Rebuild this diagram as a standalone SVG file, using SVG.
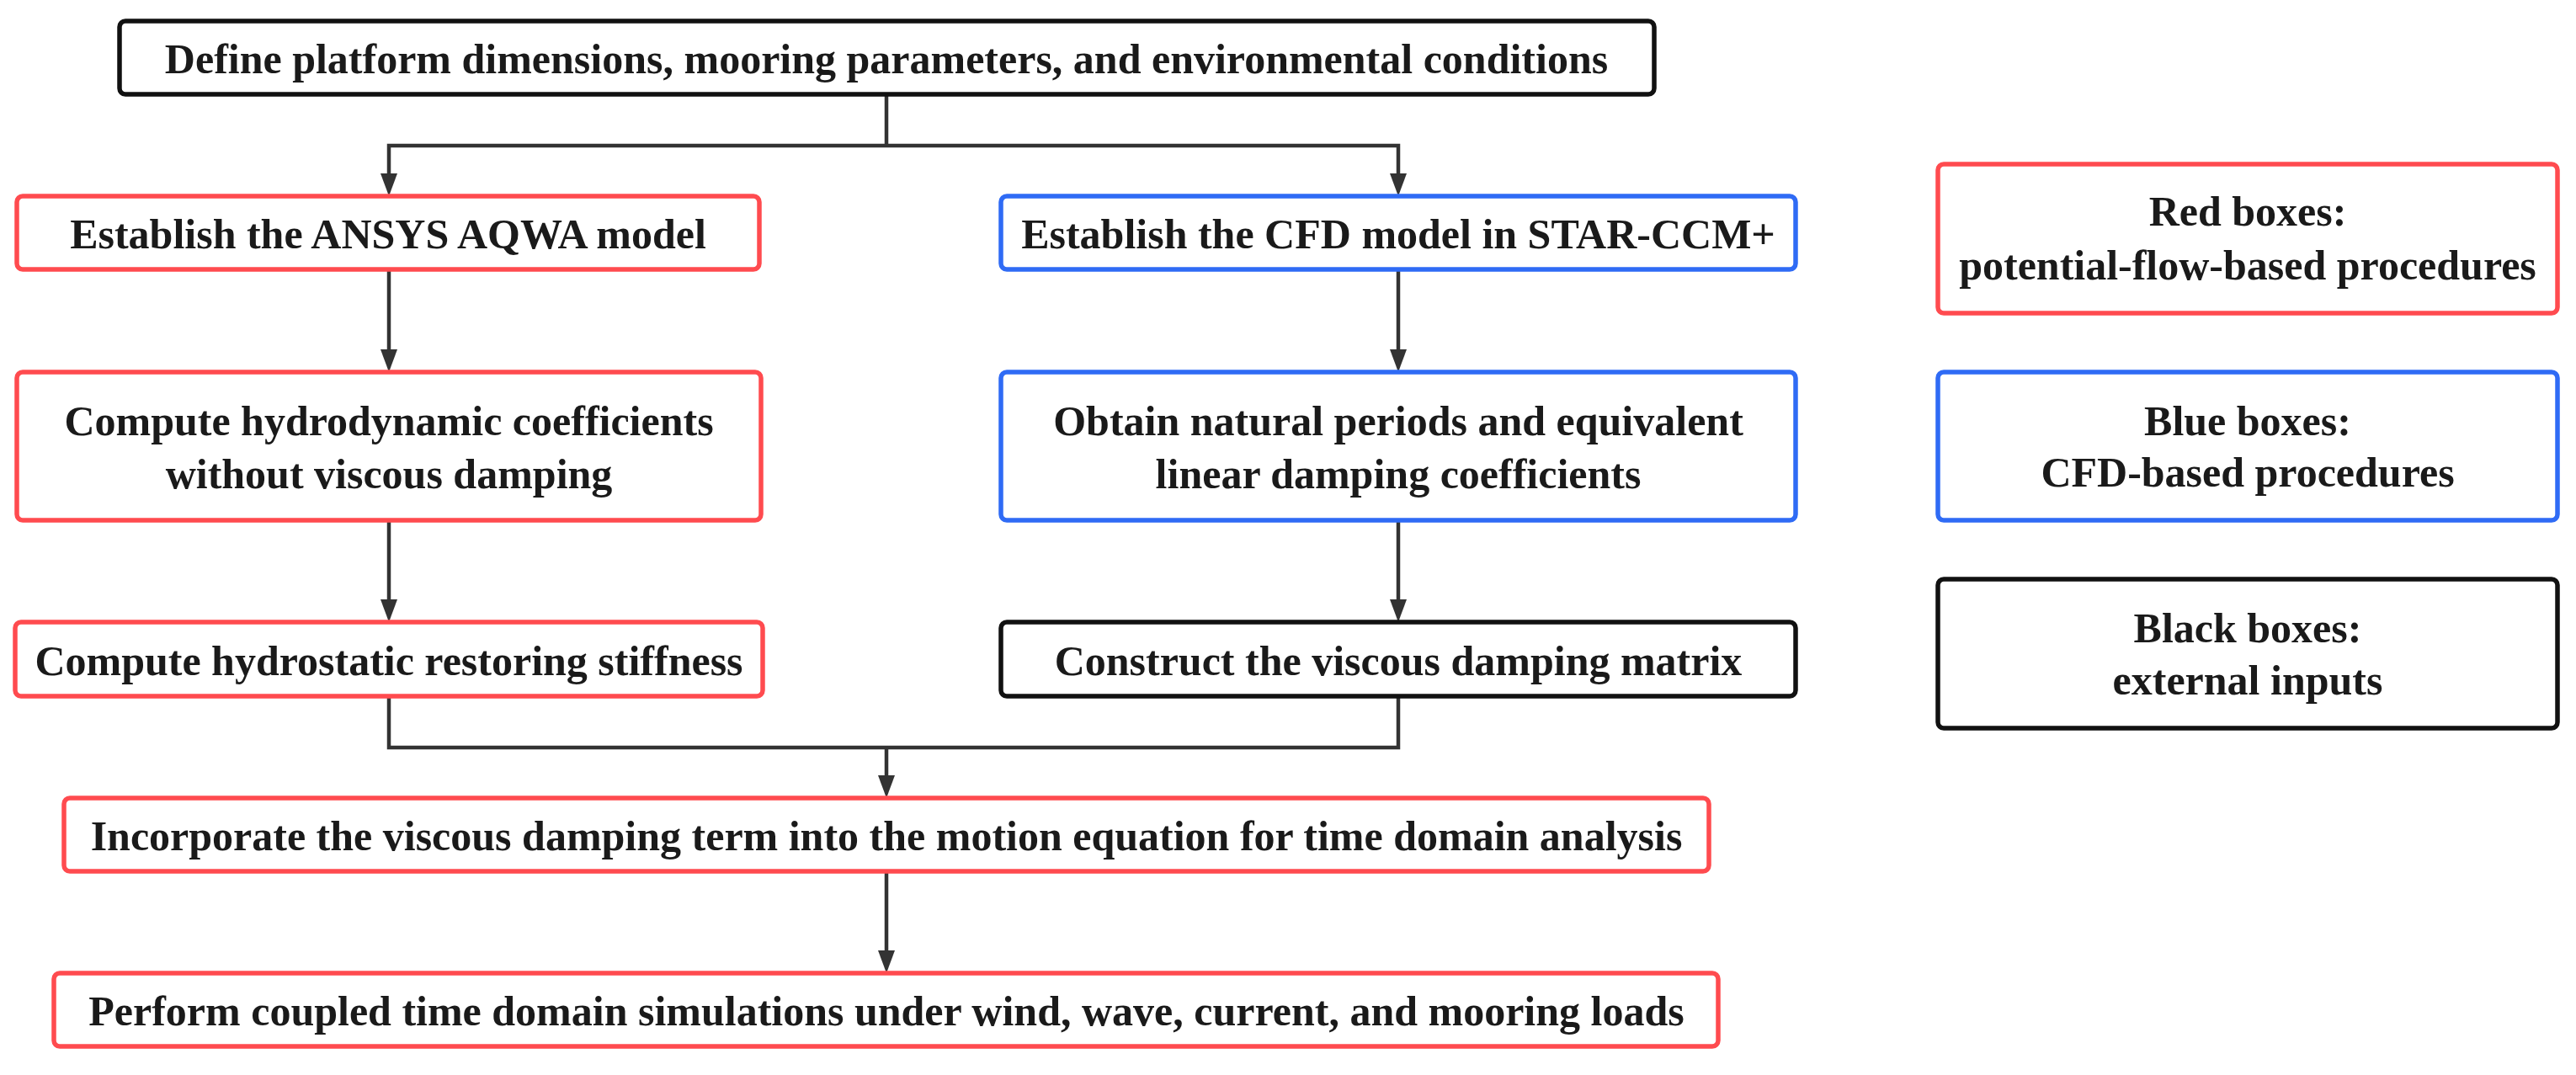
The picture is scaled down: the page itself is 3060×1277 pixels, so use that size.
<svg xmlns="http://www.w3.org/2000/svg" width="3060" height="1277" viewBox="0 0 3060 1277">
<style>
.box{fill:#ffffff;stroke-width:5.5}
.red{stroke:#ff4b4f}
.blue{stroke:#2f6bf5}
.black{stroke:#111111}
.t{font-family:"Liberation Serif","Times New Roman",serif;font-weight:bold;font-size:50px;fill:#1a1a1a;text-anchor:middle}
.c{fill:none;stroke:#333333;stroke-width:4.5;stroke-linejoin:miter}
</style>
<defs>
<marker id="arr" viewBox="0 0 27 20" refX="19" refY="10" markerWidth="27" markerHeight="20" markerUnits="userSpaceOnUse" orient="auto">
<path d="M0,0 L27,10 L0,20 z" fill="#333333"/>
</marker>
</defs>
<rect width="3060" height="1277" fill="#ffffff"/>
<g id="connectors">
<path class="c" d="M1053,112 V173"/>
<path class="c" d="M1053,173 H462 V225" marker-end="url(#arr)"/>
<path class="c" d="M1053,173 H1661 V225" marker-end="url(#arr)"/>
<path class="c" d="M462,320 V434" marker-end="url(#arr)"/>
<path class="c" d="M1661,320 V434" marker-end="url(#arr)"/>
<path class="c" d="M462,618 V731" marker-end="url(#arr)"/>
<path class="c" d="M1661,618 V731" marker-end="url(#arr)"/>
<path class="c" d="M462,827 V888 H1661 V827"/>
<path class="c" d="M1053,888 V940" marker-end="url(#arr)"/>
<path class="c" d="M1053,1035 V1148" marker-end="url(#arr)"/>
</g>
<g id="n-define">
<rect class="box black" x="142" y="25" width="1823" height="87" rx="7"/>
<text class="t" x="1053" y="87">Define platform dimensions, mooring parameters, and environmental conditions</text>
</g>
<g id="n-aqwa">
<rect class="box red" x="20" y="233" width="882" height="87" rx="7"/>
<text class="t" x="461" y="295">Establish the ANSYS AQWA model</text>
</g>
<g id="n-cfd">
<rect class="box blue" x="1189" y="233" width="944" height="87" rx="7"/>
<text class="t" x="1661" y="295">Establish the CFD model in STAR-CCM+</text>
</g>
<g id="n-hydrodyn">
<rect class="box red" x="20" y="442" width="884" height="176" rx="7"/>
<text class="t" x="462" y="517">Compute hydrodynamic coefficients</text>
<text class="t" x="462" y="580">without viscous damping</text>
</g>
<g id="n-natural">
<rect class="box blue" x="1189" y="442" width="944" height="176" rx="7"/>
<text class="t" x="1661" y="517">Obtain natural periods and equivalent</text>
<text class="t" x="1661" y="580">linear damping coefficients</text>
</g>
<g id="n-hydrostatic">
<rect class="box red" x="18" y="739" width="888" height="88" rx="7"/>
<text class="t" x="462" y="802">Compute hydrostatic restoring stiffness</text>
</g>
<g id="n-matrix">
<rect class="box black" x="1189" y="739" width="944" height="88" rx="7"/>
<text class="t" x="1661" y="802">Construct the viscous damping matrix</text>
</g>
<g id="n-incorporate">
<rect class="box red" x="76" y="948" width="1954" height="87" rx="7"/>
<text class="t" x="1053" y="1010">Incorporate the viscous damping term into the motion equation for time domain analysis</text>
</g>
<g id="n-perform">
<rect class="box red" x="64" y="1156" width="1977" height="87" rx="7"/>
<text class="t" x="1053" y="1218">Perform coupled time domain simulations under wind, wave, current, and mooring loads</text>
</g>
<g id="legend-red">
<rect class="box red" x="2302" y="195" width="736" height="177" rx="7"/>
<text class="t" x="2670" y="268">Red boxes:</text>
<text class="t" x="2670" y="332">potential-flow-based procedures</text>
</g>
<g id="legend-blue">
<rect class="box blue" x="2302" y="442" width="736" height="176" rx="7"/>
<text class="t" x="2670" y="517">Blue boxes:</text>
<text class="t" x="2670" y="578">CFD-based procedures</text>
</g>
<g id="legend-black">
<rect class="box black" x="2302" y="688" width="736" height="177" rx="7"/>
<text class="t" x="2670" y="763">Black boxes:</text>
<text class="t" x="2670" y="825">external inputs</text>
</g>
</svg>
